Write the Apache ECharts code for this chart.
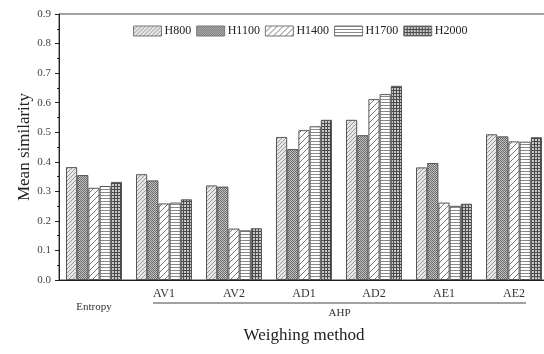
<!DOCTYPE html>
<html>
<head>
<meta charset="utf-8">
<script src="https://cdn.jsdelivr.net/npm/echarts@6/dist/echarts.min.js"></script>
<style>
  html, body { margin: 0; padding: 0; background: #fff; }
  #chart { width: 544px; height: 354px; }
</style>
</head>
<body>
<div id="chart"></div>
<script>
var categories = ['Entropy', 'AV1', 'AV2', 'AD1', 'AD2', 'AE1', 'AE2'];
var seriesNames = ['H800', 'H1100', 'H1400', 'H1700', 'H2000'];
var h800  = [0.382, 0.358, 0.320, 0.484, 0.542, 0.381, 0.493];
var h1100 = [0.355, 0.337, 0.316, 0.443, 0.490, 0.396, 0.486];
var h1400 = [0.312, 0.259, 0.174, 0.507, 0.612, 0.262, 0.469];
var h1700 = [0.318, 0.262, 0.168, 0.520, 0.629, 0.251, 0.468];
var h2000 = [0.332, 0.273, 0.175, 0.542, 0.657, 0.258, 0.483];
var yTicks = ['0.0', '0.1', '0.2', '0.3', '0.4', '0.5', '0.6', '0.7', '0.8', '0.9'];

var serif = 'Liberation Serif';

// little canvases used as fill patterns
function pattern(w, h, bg, draw) {
  var c = document.createElement('canvas');
  c.width = w; c.height = h;
  var ctx = c.getContext('2d');
  ctx.fillStyle = bg;
  ctx.fillRect(0, 0, w, h);
  draw(ctx);
  return { image: c, repeat: 'repeat' };
}
function diag(ctx, s, col, lw) {
  ctx.strokeStyle = col; ctx.lineWidth = lw;
  ctx.beginPath();
  ctx.moveTo(0, s); ctx.lineTo(s, 0);
  ctx.moveTo(-1, 1); ctx.lineTo(1, -1);
  ctx.moveTo(s - 1, s + 1); ctx.lineTo(s + 1, s - 1);
  ctx.stroke();
}
var fills = [
  pattern(4, 4, '#e6e6e6', function (ctx) { diag(ctx, 4, '#9a9a9a', 1); }),
  pattern(2, 2, '#c4c4c4', function (ctx) {
    ctx.fillStyle = '#6a6a6a'; ctx.fillRect(0, 0, 1, 1); ctx.fillRect(1, 1, 1, 1);
  }),
  pattern(6, 6, '#ffffff', function (ctx) { diag(ctx, 6, '#777', 1); }),
  pattern(1, 3, '#ffffff', function (ctx) {
    ctx.fillStyle = '#8a8a8a'; ctx.fillRect(0, 0, 1, 1);
  }),
  pattern(3, 3, '#c8c8c8', function (ctx) {
    ctx.fillStyle = '#4a4a4a'; ctx.fillRect(0, 0, 3, 1); ctx.fillRect(0, 0, 1, 3);
  })
];

var values = [h800, h1100, h1400, h1700, h2000];
var series = seriesNames.map(function (n, i) {
  return {
    name: n,
    type: 'bar',
    data: values[i],
    barGap: '0%',
    barCategoryGap: '20%',
    itemStyle: { color: fills[i], borderColor: '#555', borderWidth: 1 }
  };
});

var option = {
  animation: false,
  textStyle: { fontFamily: serif },
  grid: {
    left: 59, top: 14, width: 490, bottom: 74,
    outerBoundsMode: 'none', containLabel: false,
    show: true, borderColor: '#444', borderWidth: 1
  },
  legend: {
    data: seriesNames,
    icon: 'rect',
    left: 128, top: 20,
    itemWidth: 28, itemHeight: 10, itemGap: 5,
    itemStyle: { borderColor: '#777', borderWidth: 1 },
    textStyle: { fontFamily: serif, fontSize: 12, color: '#222', padding: [0, 0, 0, -2] }
  },
  xAxis: {
    type: 'category',
    data: categories,
    name: 'Weighing method',
    nameLocation: 'middle',
    nameGap: 47,
    nameTextStyle: { fontFamily: serif, fontSize: 17, color: '#222' },
    axisLine: { lineStyle: { color: '#222' } },
    axisTick: { alignWithLabel: true, length: 3, lineStyle: { color: '#222' } },
    axisLabel: {
      interval: 0, margin: 8,
      fontFamily: serif, fontSize: 12, color: '#333',
      formatter: function (v) { return v === 'Entropy' ? '{e|' + v + '}' : v; },
      rich: { e: { fontFamily: serif, fontSize: 11, color: '#333', padding: [14, 0, 0, 0] } }
    }
  },
  yAxis: {
    type: 'value',
    min: 0, max: 0.9, interval: 0.1,
    name: 'Mean similarity',
    nameLocation: 'middle',
    nameGap: 26,
    nameMoveOverlap: false,
    nameTextStyle: { fontFamily: serif, fontSize: 17, color: '#222' },
    axisLine: { show: true, lineStyle: { color: '#222' } },
    axisTick: { show: true, length: 4, lineStyle: { color: '#222' } },
    minorTick: { show: true, splitNumber: 2, length: 2, lineStyle: { color: '#222' } },
    splitLine: { show: false },
    axisLabel: {
      margin: 8, fontFamily: serif, fontSize: 11, color: '#444',
      formatter: function (v) { return yTicks[Math.round(v * 10)]; }
    }
  },
  series: series
};

var myChart = echarts.init(document.getElementById('chart'));
myChart.setOption(option);

// AHP bracket under AV1..AE2
var x1 = myChart.convertToPixel({ xAxisIndex: 0 }, 'AV1') - 11;
var x2 = myChart.convertToPixel({ xAxisIndex: 0 }, 'AE2') + 12;
var y0 = myChart.convertToPixel({ yAxisIndex: 0 }, 0);
myChart.setOption({
  graphic: [
    { type: 'line', shape: { x1: x1, y1: y0 + 23, x2: x2, y2: y0 + 23 },
      style: { stroke: '#444', lineWidth: 1 } },
    { type: 'text', x: (x1 + x2) / 2, y: y0 + 28,
      style: { text: 'AHP', fontFamily: serif, fontSize: 11, fill: '#333', textAlign: 'center' } }
  ]
});
</script>
</body>
</html>
